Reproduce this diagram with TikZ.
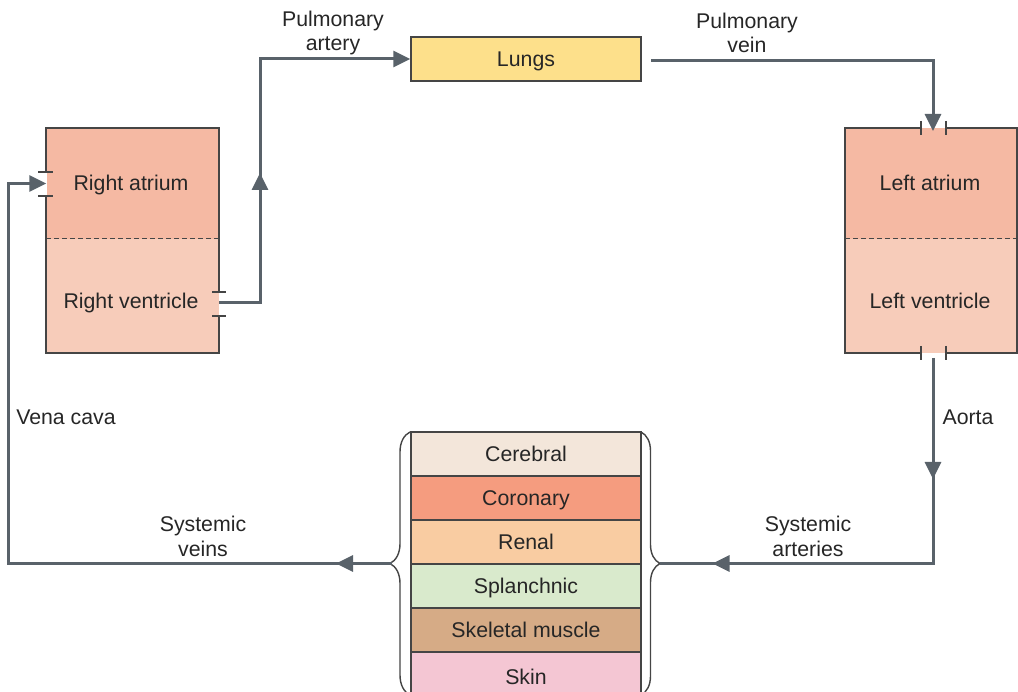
\documentclass[tikz,border=0pt]{standalone}
\usepackage{fontspec}
\setmainfont{Liberation Sans}
\usetikzlibrary{arrows.meta,decorations.pathreplacing,decorations.markings}
\definecolor{atriumc}{HTML}{F5B9A3}
\definecolor{ventc}{HTML}{F7CCBA}
\definecolor{lungc}{HTML}{FDE08B}
\definecolor{flowc}{HTML}{59626A}
\definecolor{edgec}{HTML}{454545}
\definecolor{txtc}{HTML}{262626}
\definecolor{cerc}{HTML}{F3E6DA}
\definecolor{corc}{HTML}{F59C7F}
\definecolor{renc}{HTML}{F9CCA2}
\definecolor{splc}{HTML}{D9EACC}
\definecolor{skmc}{HTML}{D6AB86}
\definecolor{skinc}{HTML}{F4C6D3}
\tikzset{
  lbl/.style={text=txtc, font=\fontsize{21.3}{24.5}\selectfont, inner sep=0pt, align=center},
  one/.style={lbl, text height=15.4pt, text depth=0pt},
  chamber/.style={minimum width=172pt, inner sep=0pt},
  organ/.style={one, draw=edgec, line width=1.3pt, minimum width=230pt, minimum height=44pt},
  border/.style={draw=edgec, line width=1.5pt},
  divider/.style={draw=edgec, line width=1pt, dash pattern=on 5pt off 3pt},
  tick/.style={draw=edgec, line width=1.3pt},
  flowline/.style={draw=flowc, line width=3pt},
  flow/.style={flowline, arrows={-{Triangle[length=17pt,width=16pt]}}},
  midarrow/.style={postaction={decorate, decoration={markings, mark=at position #1 with {\arrow{Triangle[length=17pt,width=16pt]}}}}},
  bracestyle/.style={draw=edgec, line width=1.4pt, decorate}
}
\begin{document}
\begin{tikzpicture}[x=1pt,y=-1pt]
\useasboundingbox (0,0) rectangle (1018,692);
\begin{scope}
\clip (0,0) rectangle (1018,692);
% right heart
\node[chamber, fill=atriumc, minimum height=111pt] (ra) at (132.5,183.5) {};
\node[chamber, fill=ventc, minimum height=114pt] (rv) at (132.5,296) {};
\node[one] (rat) at (131,183) {Right atrium};
\node[one] (rvt) at (131,301) {Right ventricle};
\draw[border] (46,172) -- (46,128) -- (219,128) -- (219,292);
\draw[border] (219,316) -- (219,353) -- (46,353) -- (46,196);
\draw[divider] (46,239) -- (219,239);
\draw[tick] (38,172) -- (53,172) (38,196) -- (53,196);
\draw[tick] (212,292) -- (226,292) (212,316) -- (226,316);
% left heart
\node[chamber, fill=atriumc, minimum height=111pt] (la) at (931,183.5) {};
\node[chamber, fill=ventc, minimum height=114pt] (lv) at (931,296) {};
\node[one] (lat) at (930,183) {Left atrium};
\node[one] (lvt) at (930,301) {Left ventricle};
\draw[border] (921,128) -- (845,128) -- (845,353) -- (921,353);
\draw[border] (946,128) -- (1017,128) -- (1017,353) -- (946,353);
\draw[divider] (845,239) -- (1017,239);
\draw[tick] (921,121) -- (921,135) (946,121) -- (946,135);
\draw[tick] (921,346) -- (921,360) (946,346) -- (946,360);
% lungs
\node[organ, fill=lungc] (lungs) at (526,59) {Lungs};
% organs
\node[organ, fill=cerc] (cer) at (526,454) {Cerebral};
\node[organ, fill=corc] (cor) at (526,498) {Coronary};
\node[organ, fill=renc] (ren) at (526,542) {Renal};
\node[organ, fill=splc] (spl) at (526,586) {Splanchnic};
\node[organ, fill=skmc] (skm) at (526,630) {Skeletal muscle};
\node[organ, fill=skinc, minimum height=50pt] (skin) at (526,677) {Skin};
% braces
\draw[bracestyle, decoration={brace, amplitude=20pt}] (410,695) -- (410,432);
\draw[bracestyle, decoration={brace, amplitude=19pt}] (641,432) -- (641,695);
\coordinate (lb) at (392,563.5);
\coordinate (rb) at (660,563.5);
\coordinate (rvout) at (219,303);
\coordinate (lvout) at (933,358);
\coordinate (lungout) at (651,61);
\coordinate (laIn) at (933,131);
% connectors
\draw[flow, midarrow=56pt] (lb) -- (8,563.5) |- (ra.west);
\draw[flow, midarrow=171pt] (rvout) -- (260,303) |- (lungs.west);
\draw[flow] (lungout) -| (laIn);
\draw[flowline, midarrow=121pt, midarrow=426pt] (lvout) |- (rb);
% labels
\node[lbl] (pa) at (333,33) {Pulmonary\\artery};
\node[lbl] (pv) at (747,33) {Pulmonary\\vein};
\node[one] (vc) at (66,417) {Vena cava};
\node[one] (ao) at (968,417) {Aorta};
\node[lbl] (sa) at (808,536.5) {Systemic\\arteries};
\node[lbl] (sv) at (203,536.5) {Systemic\\veins};
\end{scope}
\end{tikzpicture}
\end{document}
